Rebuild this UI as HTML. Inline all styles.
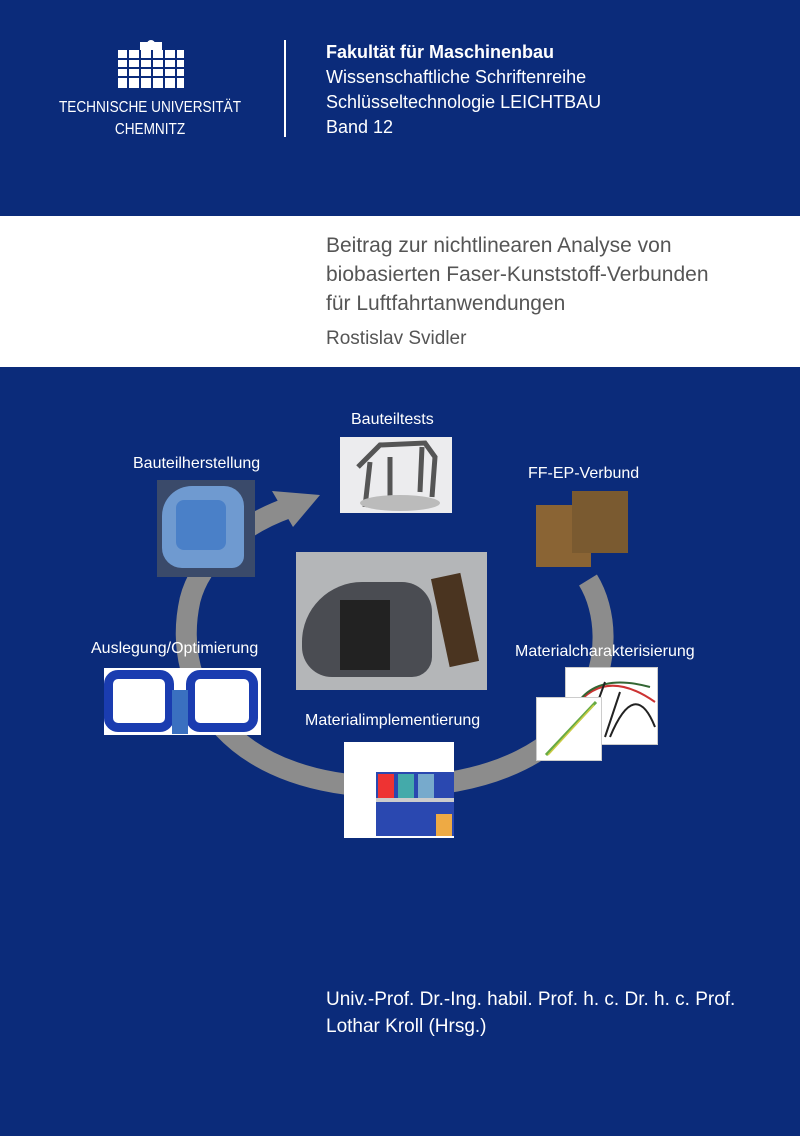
<!DOCTYPE html>
<html><head><meta charset="utf-8">
<style>
body{margin:0;width:800px;height:1136px;background:#0b2b7a;position:relative;overflow:hidden;font-family:"Liberation Sans",sans-serif;}
.a{position:absolute;}
.h{color:#fff;font-size:18px;line-height:25px;}
.lab{position:absolute;color:#fff;font-size:16px;white-space:nowrap;}
.t{color:#555;font-size:21px;line-height:29px;}
</style></head><body>
<svg class="a" style="left:115px;top:40px" width="72" height="50">
<g fill="#fff">
<rect x="3" y="10" width="66" height="38"/>
<rect x="25" y="2" width="22" height="8"/>
<circle cx="36" cy="4" r="4"/>
</g>
<g fill="#0b2b7a">
<rect x="3" y="18" width="66" height="2"/><rect x="3" y="27" width="66" height="2"/><rect x="3" y="36" width="66" height="2"/>
<rect x="12" y="10" width="2" height="38"/><rect x="24" y="10" width="2" height="38"/><rect x="36" y="10" width="2" height="38"/><rect x="48" y="10" width="2" height="38"/><rect x="60" y="10" width="2" height="38"/>
</g>
</svg>
<div class="a" style="left:20px;top:97px;width:260px;text-align:center;color:#fff;font-size:16px;line-height:22px;white-space:nowrap;transform:scaleX(0.85)">TECHNISCHE UNIVERSITÄT<br>CHEMNITZ</div>
<div class="a" style="left:284px;top:40px;width:2px;height:97px;background:#fff"></div>
<div class="a h" style="left:326px;top:40px"><b>Fakultät für Maschinenbau</b><br>Wissenschaftliche Schriftenreihe<br>Schlüsseltechnologie LEICHTBAU<br>Band 12</div>
<div class="a" style="left:0;top:216px;width:800px;height:151px;background:#fff"></div>
<div class="a t" style="left:326px;top:231px">Beitrag zur nichtlinearen Analyse von<br>biobasierten Faser-Kunststoff-Verbunden<br>für Luftfahrtanwendungen</div>
<div class="a" style="left:326px;top:328px;color:#555;font-size:19px">Rostislav Svidler</div>
<svg class="a" style="left:0;top:0" width="800" height="1136">
<path d="M 588 580 C 625 640, 605 780, 400 787 C 230 790, 170 690, 190 600 C 200 560, 240 525, 288 508" fill="none" stroke="#8c8c8c" stroke-width="21"/>
<polygon points="272,491 320,495 293,527" fill="#8c8c8c"/>
</svg>
<!-- Bauteiltests -->
<div class="a" style="left:340px;top:437px;width:112px;height:76px;background:#ececee"></div>
<svg class="a" style="left:340px;top:437px" width="112" height="76"><g stroke="#555" stroke-width="5" fill="none"><path d="M18 30 L40 8 L85 6 L95 20 L92 60 M30 25 L25 70 M50 20 L50 72 M82 10 L80 55"/></g><ellipse cx="60" cy="66" rx="40" ry="8" fill="#bbb"/></svg>
<!-- Bauteilherstellung -->
<div class="a" style="left:157px;top:480px;width:98px;height:97px;background:#3a4a6a"></div>
<div class="a" style="left:162px;top:486px;width:82px;height:82px;background:#6f9ad0;border-radius:30px 20px 12px 20px"></div>
<div class="a" style="left:176px;top:500px;width:50px;height:50px;background:#4a80c8;border-radius:8px"></div>
<!-- FF-EP -->
<div class="a" style="left:536px;top:505px;width:55px;height:62px;background:#8a6434"></div>
<div class="a" style="left:572px;top:491px;width:56px;height:62px;background:#7a5a30"></div>
<!-- helicopter -->
<div class="a" style="left:296px;top:552px;width:191px;height:138px;background:#b4b6b8"></div>
<div class="a" style="left:302px;top:582px;width:130px;height:95px;background:#4a4c52;border-radius:60px 30px 20px 30px"></div>
<div class="a" style="left:340px;top:600px;width:50px;height:70px;background:#222"></div>
<div class="a" style="left:440px;top:575px;width:30px;height:90px;background:#4a3420;transform:rotate(-12deg)"></div>
<!-- Auslegung -->
<div class="a" style="left:104px;top:668px;width:157px;height:67px;background:#fff"></div>
<div class="a" style="left:104px;top:670px;width:70px;height:62px;border:9px solid #1a3cb0;border-radius:14px;box-sizing:border-box"></div>
<div class="a" style="left:186px;top:670px;width:72px;height:62px;border:9px solid #1a3cb0;border-radius:14px;box-sizing:border-box"></div>
<div class="a" style="left:172px;top:690px;width:16px;height:44px;background:#3a70c0"></div>
<!-- Materialcharakterisierung -->
<div class="a" style="left:565px;top:667px;width:93px;height:78px;background:#fff;border:1px solid #ccc;box-sizing:border-box"></div>
<svg class="a" style="left:565px;top:667px" width="93" height="78"><g fill="none" stroke-width="2"><path d="M10 40 Q40 0 90 35" stroke="#c33"/><path d="M10 40 Q30 5 85 20" stroke="#363"/><path d="M20 70 L40 15 M40 70 L55 25 M45 70 Q70 10 90 60" stroke="#222"/></g></svg>
<div class="a" style="left:536px;top:697px;width:66px;height:64px;background:#fff;border:1px solid #ccc;box-sizing:border-box"></div>
<svg class="a" style="left:536px;top:697px" width="66" height="64"><path d="M10 58 L60 5" stroke="#6a4" stroke-width="3"/><path d="M12 58 L58 8" stroke="#cc4" stroke-width="1.5"/></svg>
<!-- Materialimplementierung -->
<div class="a" style="left:344px;top:742px;width:110px;height:96px;background:#fff"></div>
<div class="a" style="left:376px;top:772px;width:78px;height:64px;background:#2a48b0"></div>
<div class="a" style="left:378px;top:774px;width:16px;height:26px;background:#e33"></div>
<div class="a" style="left:398px;top:774px;width:16px;height:26px;background:#4aa"></div>
<div class="a" style="left:418px;top:774px;width:16px;height:26px;background:#7ac"></div>
<div class="a" style="left:436px;top:814px;width:16px;height:22px;background:#ea4"></div>
<div class="a" style="left:376px;top:798px;width:78px;height:4px;background:#ccc"></div>
<div class="lab" style="left:351px;top:411px">Bauteiltests</div>
<div class="lab" style="left:133px;top:455px">Bauteilherstellung</div>
<div class="lab" style="left:528px;top:465px">FF-EP-Verbund</div>
<div class="lab" style="left:91px;top:640px">Auslegung/Optimierung</div>
<div class="lab" style="left:515px;top:643px">Materialcharakterisierung</div>
<div class="lab" style="left:305px;top:712px">Materialimplementierung</div>
<div class="a" style="left:326px;top:986px;color:#fff;font-size:19px;line-height:27px">Univ.-Prof. Dr.-Ing. habil. Prof. h. c. Dr. h. c. Prof.<br>Lothar Kroll (Hrsg.)</div>
</body></html>
